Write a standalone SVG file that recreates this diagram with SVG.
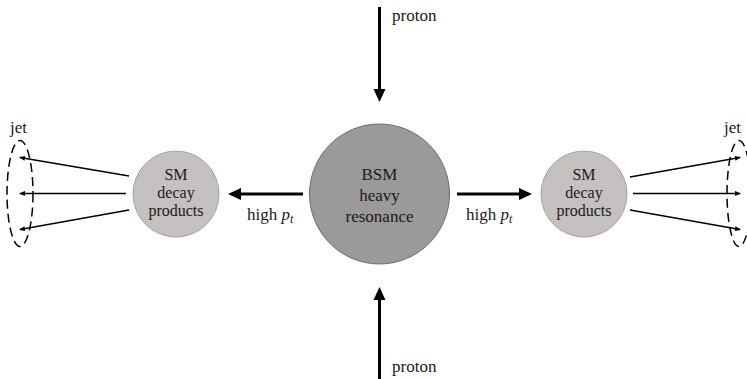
<svg xmlns="http://www.w3.org/2000/svg" width="747" height="379" viewBox="0 0 747 379">
<style>
text{font-family:"Liberation Serif","DejaVu Serif",serif;font-size:17px;fill:#1a1a1a}
.c{text-anchor:middle}
.s{font-size:16px}
.thick{stroke:#000;stroke-width:3;fill:none}
.thin{stroke:#000;stroke-width:1.5;fill:none}
.jet{stroke:#000;stroke-width:1.5;fill:none;stroke-dasharray:9,5}
</style>
<defs>
<marker id="big" markerWidth="12" markerHeight="12" refX="0" refY="6" orient="auto" markerUnits="userSpaceOnUse" viewBox="0 0 12 12" overflow="visible">
<path d="M-1,0 L12,6 L-1,12 z" fill="#000"/>
</marker>
<marker id="small" markerWidth="6" markerHeight="6" refX="5" refY="3" orient="auto" markerUnits="userSpaceOnUse" viewBox="0 0 6 6">
<path d="M0,0.5 L6,3 L0,5.5 z" fill="#000"/>
</marker>
</defs>
<g id="bsm">
<circle cx="379.5" cy="194" r="70" fill="#9b9999" stroke="#6e6e6e" stroke-width="1"/>
<text class="c" x="379.5" y="180">BSM</text>
<text class="c" x="379.5" y="201">heavy</text>
<text class="c" x="379.5" y="222">resonance</text>
</g>
<g id="sm-left">
<circle cx="176" cy="194" r="43" fill="#c4c1c0" stroke="#a5a2a1" stroke-width="1"/>
<text class="c s" x="176" y="180">SM</text>
<text class="c s" x="176" y="198">decay</text>
<text class="c s" x="176" y="216">products</text>
</g>
<g id="sm-right">
<circle cx="584" cy="194" r="43" fill="#c4c1c0" stroke="#a5a2a1" stroke-width="1"/>
<text class="c s" x="584" y="180">SM</text>
<text class="c s" x="584" y="198">decay</text>
<text class="c s" x="584" y="216">products</text>
</g>
<g id="jet-left">
<ellipse class="jet" cx="20" cy="193.5" rx="13" ry="53"/>
<text x="10" y="133">jet</text>
</g>
<g id="jet-right">
<ellipse class="jet" cx="739" cy="193.5" rx="12" ry="53"/>
<text x="724" y="133">jet</text>
</g>
<g id="labels">
<text x="392" y="21">proton</text>
<text x="392" y="372">proton</text>
<text x="247" y="220">high <tspan font-style="italic">p</tspan><tspan font-style="italic" font-size="12" dy="3">t</tspan></text>
<text x="466" y="220">high <tspan font-style="italic">p</tspan><tspan font-style="italic" font-size="12" dy="3">t</tspan></text>
</g>
<g id="connectors">
<line class="thick" x1="379.5" y1="7" x2="379.5" y2="90" marker-end="url(#big)"/>
<line class="thick" x1="379.5" y1="379" x2="379.5" y2="299" marker-end="url(#big)"/>
<line class="thick" x1="303" y1="194" x2="240" y2="194" marker-end="url(#big)"/>
<line class="thick" x1="457" y1="194" x2="520" y2="194" marker-end="url(#big)"/>
<line class="thin" x1="129" y1="176" x2="20" y2="157.5" marker-end="url(#small)"/>
<line class="thin" x1="126" y1="193.5" x2="20" y2="193.5" marker-end="url(#small)"/>
<line class="thin" x1="129" y1="210" x2="20" y2="229.5" marker-end="url(#small)"/>
<line class="thin" x1="630" y1="177" x2="740" y2="157.5" marker-end="url(#small)"/>
<line class="thin" x1="633" y1="193.5" x2="740" y2="193.5" marker-end="url(#small)"/>
<line class="thin" x1="630" y1="210" x2="740" y2="229.5" marker-end="url(#small)"/>
</g>
</svg>
